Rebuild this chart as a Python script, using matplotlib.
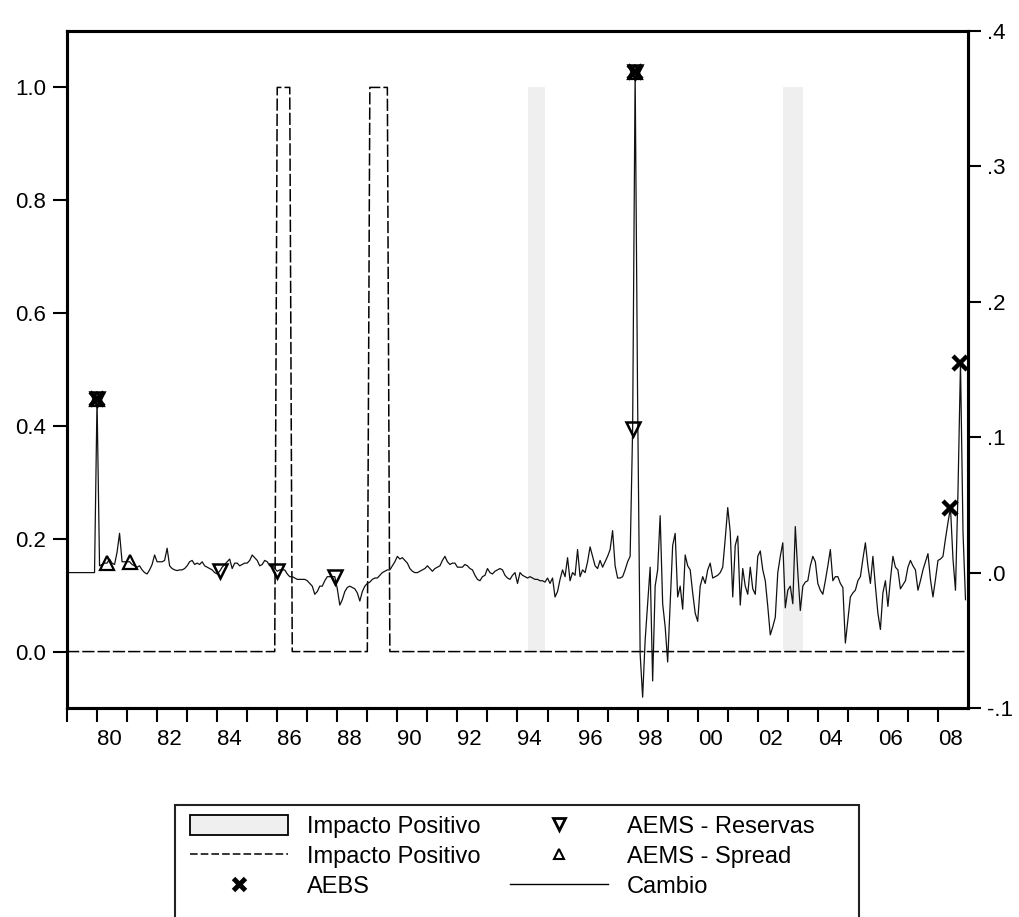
import numpy as np
import pandas as pd
import matplotlib
matplotlib.use('Agg')
import matplotlib.pyplot as plt
from matplotlib.lines import Line2D
from matplotlib.patches import Patch, Rectangle

plt.rcParams['font.family'] = ['Liberation Sans', 'DejaVu Sans']

# Cambio mensual 1979m1 - 2008m12 (eje derecho), una fila por año
cambio = [
    0.000, 0.000, 0.000, 0.000, 0.000, 0.000, 0.000, 0.000, 0.000, 0.000, 0.000, 0.000,  # 1979
    0.128, 0.005, 0.006, 0.007, 0.007, 0.010, 0.007, 0.006, 0.015, 0.029, 0.008, 0.008,  # 1980
    0.008, 0.008, 0.006, 0.005, 0.004, 0.005, 0.002, 0.000, -0.001, 0.002, 0.006, 0.013,  # 1981
    0.008, 0.008, 0.008, 0.009, 0.018, 0.005, 0.003, 0.002, 0.0015, 0.002, 0.002, 0.003,  # 1982
    0.005, 0.008, 0.009, 0.006, 0.007, 0.006, 0.008, 0.005, 0.004, 0.003, 0.002, 0.000,  # 1983
    -0.001, 0.001, 0.004, 0.006, 0.008, 0.010, 0.003, 0.007, 0.007, 0.005, 0.006, 0.007,  # 1984
    0.007, 0.009, 0.013, 0.011, 0.009, 0.005, 0.006, 0.009, 0.008, 0.005, 0.006, 0.003,  # 1985
    0.001, 0.002, 0.002, 0.002, -0.001, -0.003, -0.003, -0.004, -0.005, -0.005, -0.005, -0.005,  # 1986
    -0.006, -0.008, -0.010, -0.016, -0.014, -0.010, -0.010, -0.006, -0.003, -0.003, -0.003, -0.003,  # 1987
    -0.012, -0.024, -0.020, -0.014, -0.011, -0.010, -0.011, -0.012, -0.015, -0.021, -0.014, -0.010,  # 1988
    -0.008, -0.007, -0.005, -0.004, -0.004, -0.002, 0.000, 0.001, 0.002, 0.002, 0.005, 0.008,  # 1989
    0.012, 0.010, 0.011, 0.009, 0.007, 0.003, 0.001, 0.000, 0.000, 0.001, 0.002, 0.003,  # 1990
    0.005, 0.003, 0.001, 0.003, 0.004, 0.005, 0.009, 0.012, 0.008, 0.006, 0.007, 0.007,  # 1991
    0.004, 0.004, 0.004, 0.006, 0.005, 0.003, 0.002, -0.002, -0.005, -0.006, -0.003, -0.002,  # 1992
    0.003, 0.000, -0.001, 0.001, 0.002, 0.003, 0.002, -0.002, -0.004, -0.005, -0.002, 0.000,  # 1993
    -0.008, 0.000, -0.002, -0.003, -0.004, -0.003, -0.004, -0.005, -0.005, -0.006, -0.006, -0.007,  # 1994
    -0.004, -0.008, -0.004, -0.018, -0.014, -0.005, 0.002, -0.003, 0.011, -0.006, 0.000, -0.002,  # 1995
    0.017, -0.003, 0.002, 0.000, 0.008, 0.019, 0.012, 0.005, 0.003, 0.009, 0.004, 0.008,  # 1996
    0.012, 0.017, 0.031, 0.005, -0.004, -0.004, -0.003, 0.002, 0.008, 0.012, 0.106, 0.370,  # 1997
    0.125, -0.060, -0.092, -0.050, -0.023, 0.004, -0.080, -0.010, 0.002, 0.042, -0.023, -0.040,  # 1998
    -0.066, -0.023, 0.020, 0.029, -0.018, -0.010, -0.027, 0.013, 0.005, 0.002, -0.015, -0.030,  # 1999
    -0.036, -0.010, -0.003, -0.008, 0.002, 0.007, -0.004, -0.003, -0.002, 0.000, 0.004, 0.025,  # 2000
    0.048, 0.030, -0.018, 0.020, 0.027, -0.024, 0.003, -0.010, -0.016, 0.004, -0.012, -0.016,  # 2001
    0.012, 0.016, 0.002, -0.006, -0.025, -0.046, -0.040, -0.033, 0.000, 0.012, 0.022, -0.026,  # 2002
    -0.013, -0.010, -0.023, 0.034, 0.000, -0.028, -0.010, -0.007, -0.006, 0.005, 0.012, 0.008,  # 2003
    -0.008, -0.013, -0.016, -0.006, 0.005, 0.017, -0.006, -0.003, -0.003, -0.008, -0.011, -0.052,  # 2004
    -0.035, -0.018, -0.015, -0.013, -0.006, -0.003, 0.010, 0.022, 0.005, -0.008, 0.012, -0.010,  # 2005
    -0.030, -0.042, -0.015, -0.006, -0.025, -0.005, 0.012, 0.004, 0.002, -0.012, -0.009, -0.006,  # 2006
    0.004, 0.009, 0.005, 0.002, -0.013, -0.006, 0.002, 0.008, 0.014, -0.005, -0.018, -0.005,  # 2007
    0.009, 0.010, 0.012, 0.025, 0.037, 0.048, 0.010, -0.013, 0.060, 0.155, 0.030, -0.020,  # 2008
]

# alarmas
aebs_fechas = ['1980-01', '1997-12', '2008-06', '2008-10']
reservas_fechas = ['1980-01', '1984-02', '1986-01', '1987-12', '1997-11', '1997-12']
spread_fechas = ['1980-01', '1980-05', '1981-02', '1997-12']

# impacto positivo (linea discontinua, eje izq) y sombreado
impacto_ini = ['1986-01', '1989-02']
impacto_fin = ['1986-06', '1989-09']
sombra_ini = ['1994-05', '2002-11']
sombra_fin = ['1994-11', '2003-06']

fechas = pd.period_range('1979-01', '2008-12', freq='M')
serie = pd.Series(cambio, index=fechas)
x = fechas.year + (fechas.month - 1) / 12.0

impacto = pd.Series(0.0, index=fechas)
for a, b in zip(impacto_ini, impacto_fin):
    impacto[pd.Period(a, 'M'):pd.Period(b, 'M')] = 1.0


def px(f):
    p = pd.Period(f, 'M')
    return p.year + (p.month - 1) / 12.0


fig = plt.figure(figsize=(10.19, 9.17), dpi=100)
ax = fig.add_axes([67 / 1019, 1 - 708 / 917, (968 - 67) / 1019, (708 - 31) / 917])
ax2 = ax.twinx()

for a, b in zip(sombra_ini, sombra_fin):
    ax.fill_between([px(a), px(b) + 1 / 12.0], 0, 1, color='#efefef', lw=0)

ax.plot(x, impacto.values, color='black', lw=1.1, ls=(0, (8, 2)))

ax2.plot(x, serie.values, color='#111111', lw=0.9)

xr = [px(f) for f in reservas_fechas]
yr = [serie[pd.Period(f, 'M')] for f in reservas_fechas]
xs = [px(f) for f in spread_fechas]
ys = [serie[pd.Period(f, 'M')] for f in spread_fechas]
xa = [px(f) for f in aebs_fechas]
ya = [serie[pd.Period(f, 'M')] for f in aebs_fechas]
ax2.plot(xr, yr, ls='none', marker='v', ms=10.5, mfc='none', mec='black', mew=1.8)
ax2.plot(xs, ys, ls='none', marker='^', ms=10, mfc='none', mec='black', mew=1.6)
ax2.plot(xa, ya, ls='none', marker='x', ms=10, mec='black', mew=3.2)

# ejes
ax.set_xlim(1979, 2009)
ax.set_ylim(-0.1, 1.1)
ax2.set_ylim(-0.1, 0.4)

anios = np.arange(1979, 2009)
ax.set_xticks(anios)
ax.set_xticklabels([str(a)[2:] if a % 2 == 0 else '' for a in anios], ha='left')
ax.set_yticks([0.0, 0.2, 0.4, 0.6, 0.8, 1.0])
ax.set_yticklabels(['0.0', '0.2', '0.4', '0.6', '0.8', '1.0'])
ax2.set_yticks([-0.1, 0.0, 0.1, 0.2, 0.3, 0.4])
ax2.set_yticklabels(['-.1', '.0', '.1', '.2', '.3', '.4'])

ax.tick_params(axis='x', direction='out', length=10, width=1.5, pad=5, labelsize=16)
ax.tick_params(axis='y', direction='out', length=10, width=1.5, pad=5, labelsize=16)
ax2.tick_params(axis='y', direction='out', length=9, width=1.5, pad=5, labelsize=16)
for a_ in (ax, ax2):
    for s in a_.spines.values():
        s.set_linewidth(2.2)

# leyenda
handles = [
    Patch(facecolor='#efefef', edgecolor='black', lw=1.3),
    Line2D([], [], color='black', lw=1.1, ls=(0, (5, 2))),
    Line2D([], [], ls='none', marker='x', ms=9, mec='black', mew=3.5),
    Line2D([], [], ls='none', marker='v', ms=8, mfc='none', mec='black', mew=2),
    Line2D([], [], ls='none', marker='^', ms=7, mfc='none', mec='black', mew=1.5),
    Line2D([], [], color='black', lw=1.0),
]
labels = ['Impacto Positivo', 'Impacto Positivo', 'AEBS',
          'AEMS - Reservas', 'AEMS - Spread', 'Cambio']
fig.legend(handles, labels, ncol=2, loc='upper left',
           bbox_to_anchor=(190 / 1019, 1 - 815 / 917), frameon=False,
           fontsize=17, handlelength=4.15, handleheight=0.9, handletextpad=0.8,
           columnspacing=1.27, labelspacing=0.3, borderpad=0, borderaxespad=0)
fig.add_artist(Rectangle((175 / 1019, -0.01), (859 - 175) / 1019, 0.01 + 1 - 805 / 917,
                         transform=fig.transFigure, fill=False, ec='#222222', lw=1.5))

fig.savefig('out.png', dpi=100)
